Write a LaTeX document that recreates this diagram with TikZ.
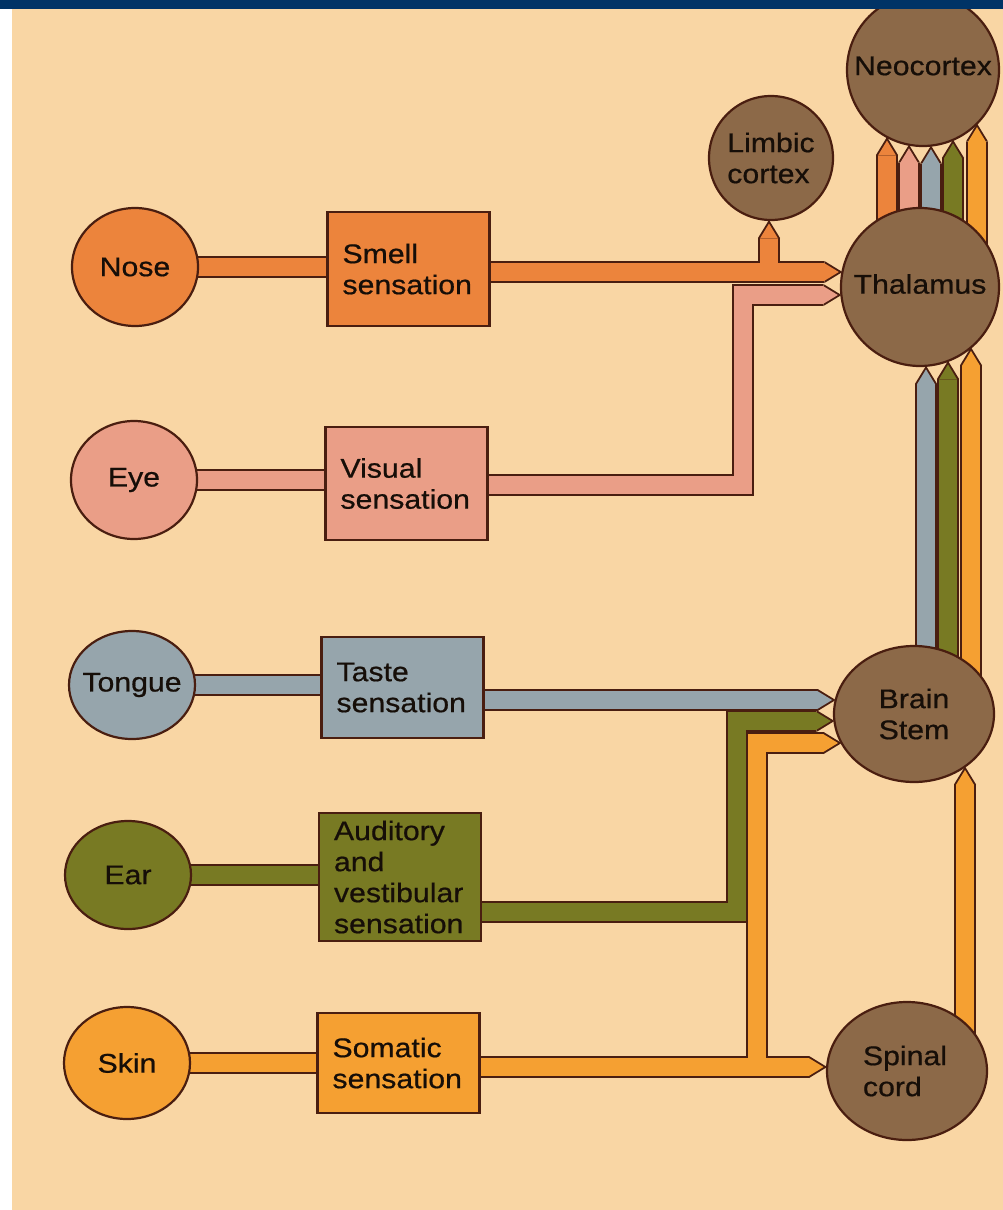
\documentclass[tikz,border=0pt]{standalone}
\usepackage{fontspec}
\setmainfont{Liberation Sans}[FakeStretch=1.12,FakeBold=0.6]
\usetikzlibrary{shapes.geometric,arrows.meta}
\pgfdeclarelayer{back}
\pgfdeclarelayer{bands}
\pgfsetlayers{back,bands,main}
\definecolor{paper}{HTML}{F9D6A4}
\definecolor{navy}{HTML}{003366}
\definecolor{edgec}{HTML}{4A1E10}
\definecolor{nosec}{HTML}{EC843C}
\definecolor{eyec}{HTML}{EA9E87}
\definecolor{tonguec}{HTML}{96A5AC}
\definecolor{earc}{HTML}{787A23}
\definecolor{skinc}{HTML}{F5A032}
\definecolor{brainc}{HTML}{8C6948}
\definecolor{inkc}{HTML}{160E08}
\newcommand{\dgtxt}{\fontsize{27}{31}\selectfont}
\begin{document}
\begin{tikzpicture}[x=1pt,y=-1pt,
  organ/.style={ellipse, draw=edgec, line width=2.2pt, inner sep=0pt},
  lbl/.style={font=\dgtxt, text=inkc, align=left, inner sep=0pt},
  sbox/.style={rectangle, draw=edgec, line width=2.2pt, text width=132pt, align=left,
    inner xsep=15pt, inner ysep=2pt, font=\dgtxt, text=inkc},
  bandout/.style={line width=22pt, draw=edgec, line join=miter},
  bandin/.style={line width=18.2pt, draw=#1, line join=miter},
  tipout/.style={-{Triangle[length=18pt,width=22pt,line width=0pt]}},
  tipin/.style={shorten >=3.6pt, -{Triangle[length=15pt,width=18.2pt,line width=0pt]}}]
\useasboundingbox (0,0) rectangle (1003,1210);
\begin{pgfonlayer}{back}
  \fill[paper] (0,0) rectangle (1003,1210);
  \fill[white] (0,0) rectangle (12,1210);
\end{pgfonlayer}

% sense organs
\node[organ, fill=nosec, minimum width=126pt, minimum height=118pt, label={[lbl]center:Nose}] (nose) at (135,267) {};
\node[organ, fill=eyec, minimum width=126pt, minimum height=118pt, label={[lbl]center:Eye}] (eye) at (134,480) {};
\node[organ, fill=tonguec, minimum width=126pt, minimum height=108pt, label={[lbl]center:Tongue}] (tongue) at (132,685) {};
\node[organ, fill=earc, minimum width=126pt, minimum height=108pt, label={[lbl]center:Ear}] (ear) at (128,875) {};
\node[organ, fill=skinc, minimum width=126pt, minimum height=112pt, label={[lbl]center:Skin}] (skin) at (127,1063) {};

% sensation boxes
\node[sbox, fill=nosec, minimum height=114pt] (smell) at (408.5,269) {Smell\\sensation};
\node[sbox, fill=eyec, minimum height=113pt] (visual) at (406.5,483.5) {Visual\\sensation};
\node[sbox, fill=tonguec, minimum height=101pt] (taste) at (402.5,687.5) {Taste\\sensation};
\node[sbox, fill=earc, minimum height=128pt] (audit) at (400,877) {Auditory\\and\\vestibular\\sensation};
\node[sbox, fill=skinc, minimum height=100pt] (somatic) at (398.5,1063) {Somatic\\sensation};

% brain centres
\node[organ, fill=brainc, minimum width=124pt, minimum height=124pt,
  label={[lbl,align=left]center:{\fontsize{27}{34}\selectfont Limbic\\cortex}}] (limbic) at (771,158) {};
\node[organ, fill=brainc, minimum width=152pt, minimum height=152pt,
  label={[lbl,yshift=4pt]center:Neocortex}] (neo) at (923,70) {};
\node[organ, fill=brainc, minimum width=158pt, minimum height=158pt,
  label={[lbl,yshift=3pt]center:Thalamus}] (thal) at (920,287) {};
\node[organ, fill=brainc, minimum width=160pt, minimum height=136pt,
  label={[lbl]center:Brain\\Stem}] (stem) at (914,714) {};
\node[organ, fill=brainc, minimum width=160pt, minimum height=138pt,
  label={[lbl,xshift=-2pt]center:Spinal\\cord}] (spinal) at (907,1071) {};

% end points of the pathways
\coordinate (tN) at (842.4,272);
\coordinate (tL) at (769,220);
\coordinate (cE) at (743,485);
\coordinate (tE) at (841.4,295);
\coordinate (tT) at (835.7,700);
\coordinate (cA) at (737,912);
\coordinate (tA) at (834.4,721);
\coordinate (tS) at (827.1,1067);
\coordinate (cS) at (757,743);
\coordinate (tB) at (841.6,743);
\coordinate (tSp) at (965,766.4);
\coordinate (n1) at (887,137);
\coordinate (n2) at (909,144.7);
\coordinate (n3) at (931,145.6);
\coordinate (n4) at (953,139.8);
\coordinate (n5) at (977,123.5);
\coordinate (m1) at (926,365.8);
\coordinate (m2) at (948,360.9);
\coordinate (m3) at (971,347.3);

\begin{pgfonlayer}{bands}
  % thalamus to neocortex
  \foreach \p/\c in {n1/nosec,n2/eyec,n3/tonguec,n4/earc,n5/skinc}{
    \draw[bandout,tipout] (\p |- thal.center) -- (\p);
    \draw[bandin=\c,tipin] (\p |- thal.center) -- (\p);
  }
  % brain stem to thalamus
  \foreach \p/\c in {m1/tonguec,m2/earc,m3/skinc}{
    \draw[bandout,tipout] (\p |- stem.center) -- (\p);
    \draw[bandin=\c,tipin] (\p |- stem.center) -- (\p);
  }
  % spinal cord to brain stem
  \draw[bandout,tipout] (tSp |- spinal.center) -- (tSp);
  \draw[bandin=skinc,tipin] (tSp |- spinal.center) -- (tSp);

  % smell
  \draw[bandout] (nose.center) -- (nose.center -| smell.center);
  \draw[bandout,tipout] (smell.center |- tN) -- (tN);
  \draw[bandout,tipout] (tL |- tN) -- (tL);
  \draw[bandin=nosec] (nose.center) -- (nose.center -| smell.center);
  \draw[bandin=nosec,tipin] (smell.center |- tN) -- (tN);
  \draw[bandin=nosec,tipin] (tL |- tN) -- (tL);

  % vision
  \draw[bandout] (eye.center) -- (eye.center -| visual.center);
  \draw[bandout,tipout] (visual.center |- cE) -- (cE) -- (cE |- tE) -- (tE);
  \draw[bandin=eyec] (eye.center) -- (eye.center -| visual.center);
  \draw[bandin=eyec,tipin] (visual.center |- cE) -- (cE) -- (cE |- tE) -- (tE);

  % taste
  \draw[bandout] (tongue.center) -- (tongue.center -| taste.center);
  \draw[bandout,tipout] (taste.center |- tT) -- (tT);
  \draw[bandin=tonguec] (tongue.center) -- (tongue.center -| taste.center);
  \draw[bandin=tonguec,tipin] (taste.center |- tT) -- (tT);

  % hearing
  \draw[bandout] (ear.center) -- (ear.center -| audit.center);
  \draw[bandout,tipout] (audit.center |- cA) -- (cA) -- (cA |- tA) -- (tA);
  \draw[bandin=earc] (ear.center) -- (ear.center -| audit.center);
  \draw[bandin=earc,tipin] (audit.center |- cA) -- (cA) -- (cA |- tA) -- (tA);

  % somatic
  \draw[bandout] (skin.center) -- (skin.center -| somatic.center);
  \draw[bandout,tipout] (somatic.center |- tS) -- (tS);
  \draw[bandout,tipout] (cS |- tS) -- (cS) -- (tB);
  \draw[bandin=skinc] (skin.center) -- (skin.center -| somatic.center);
  \draw[bandin=skinc,tipin] (somatic.center |- tS) -- (tS);
  \draw[bandin=skinc,tipin] (cS |- tS) -- (cS) -- (tB);
\end{pgfonlayer}

\fill[navy] (0,-10) rectangle (1003,9);
\end{tikzpicture}
\end{document}
